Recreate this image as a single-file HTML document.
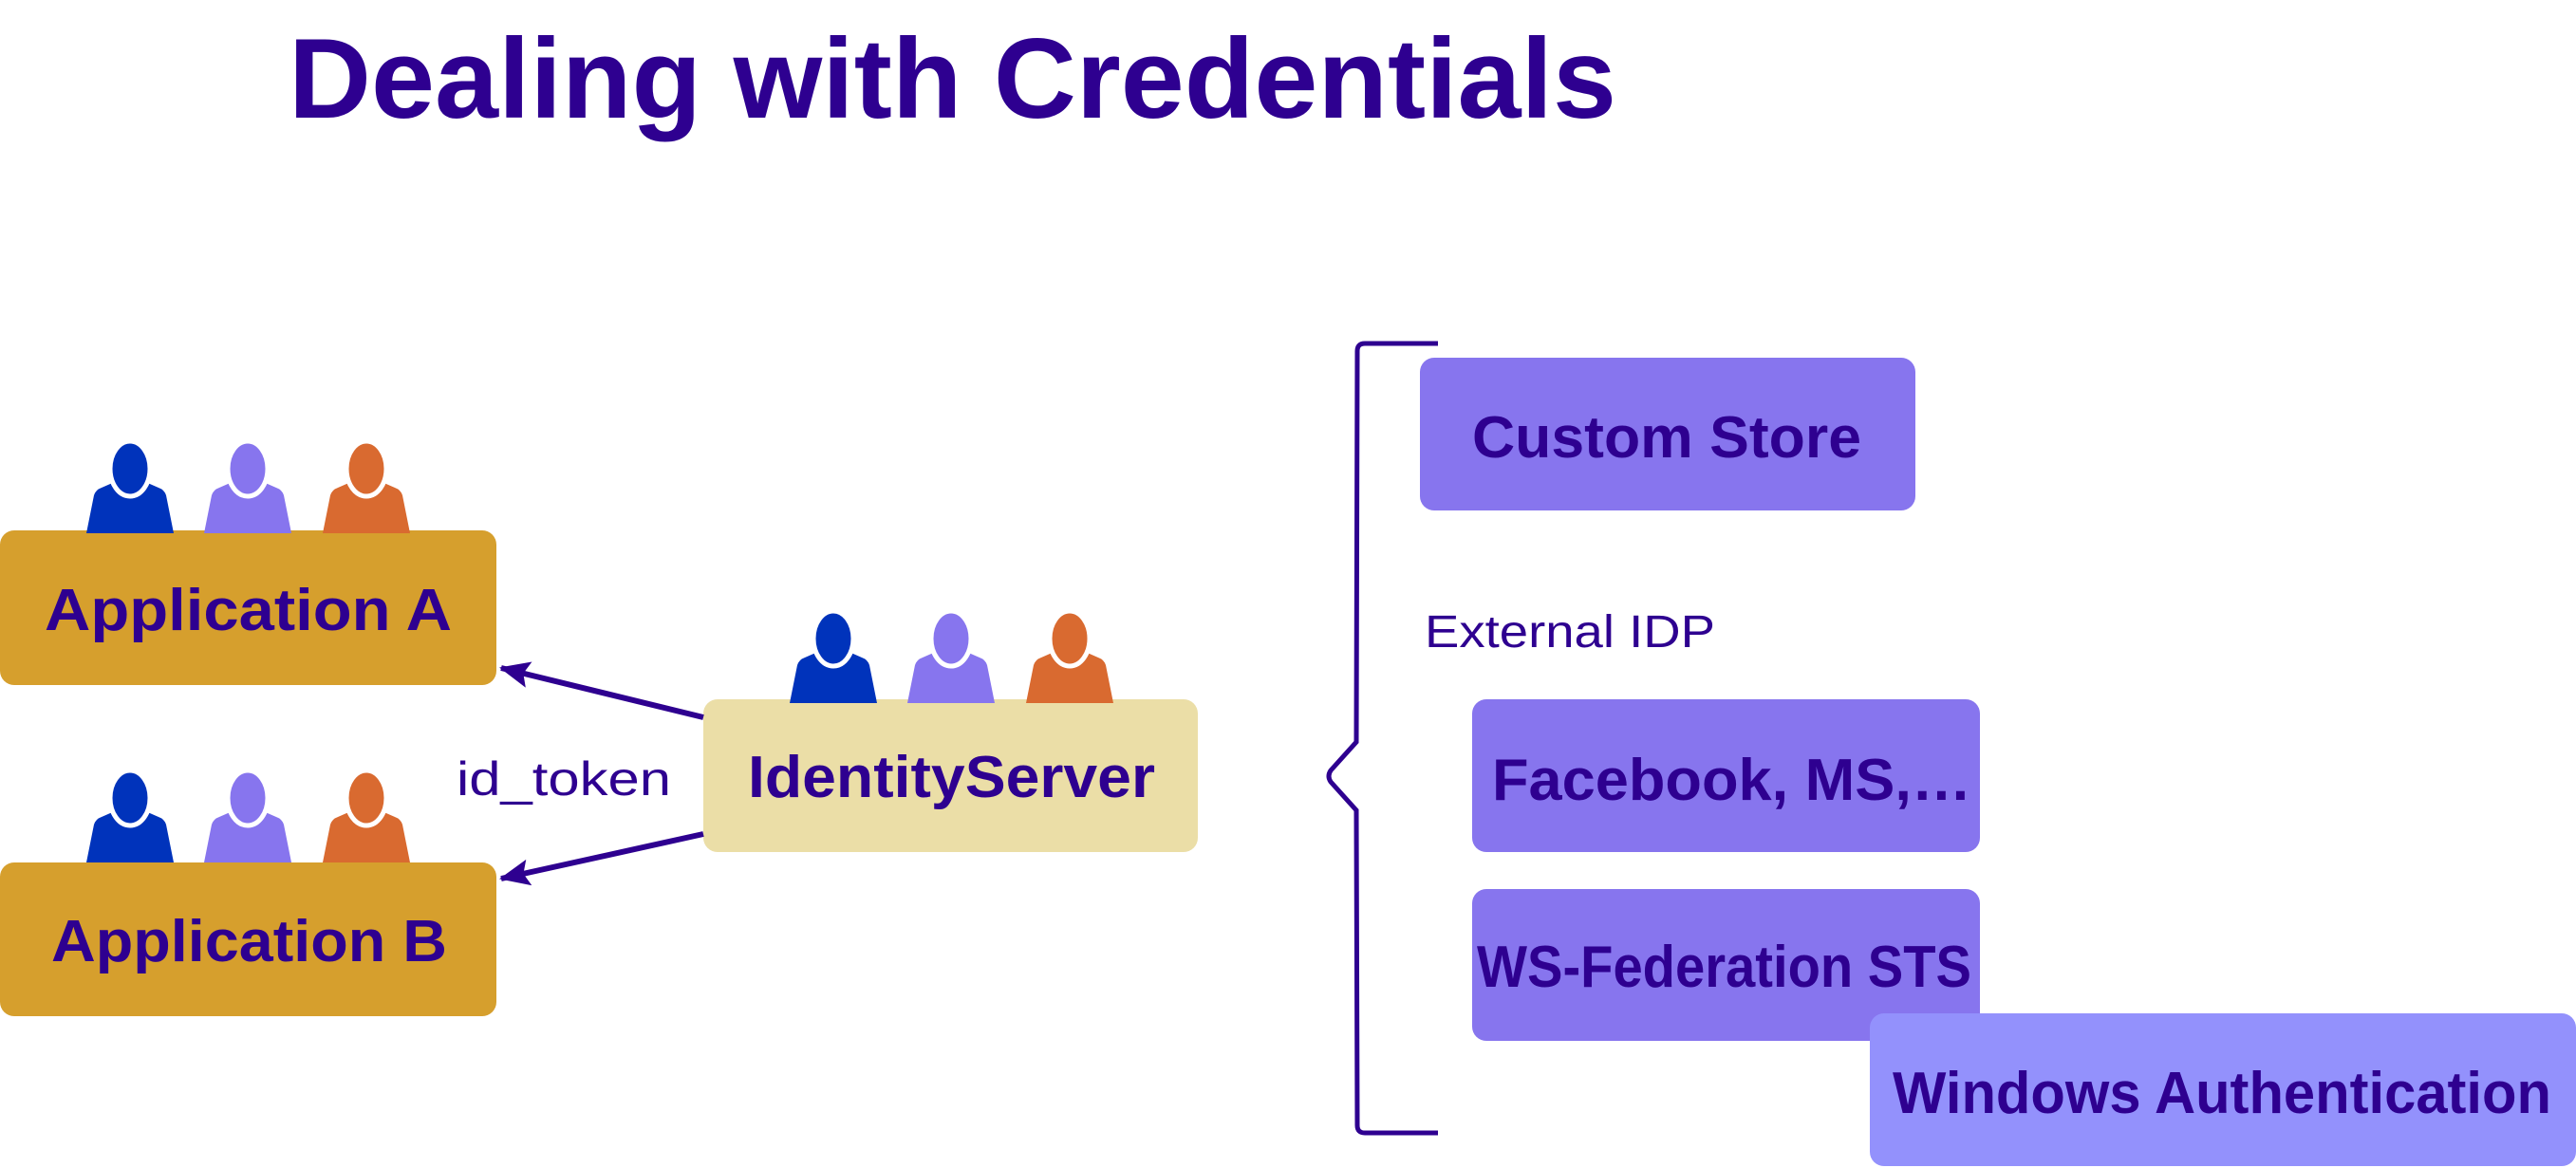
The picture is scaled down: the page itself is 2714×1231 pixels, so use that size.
<!DOCTYPE html>
<html><head><meta charset="utf-8"><style>
html,body{margin:0;padding:0;background:#fff;}
svg{display:block;}
text{font-family:"Liberation Sans",sans-serif;font-weight:bold;fill:#2e0090;}
</style></head><body>
<svg width="2714" height="1231" viewBox="0 0 2714 1231" xmlns="http://www.w3.org/2000/svg">
<defs>
<g id="p">
<path d="M4 95 L12 55 Q14 49 20 47 L36 40 Q50 54 64 40 L80 47 Q86 49 88 55 L96 95 Z"/>
<ellipse cx="50" cy="27" rx="21" ry="29" stroke="#fff" stroke-width="5"/>
</g>
<marker id="ah" markerWidth="32" markerHeight="28" refX="30" refY="14" orient="auto" markerUnits="userSpaceOnUse" viewBox="0 0 32 28"><path d="M0 0 L32 14 L0 28 L6 14 Z" fill="#2e0090"/></marker>
</defs>
<text x="304" y="124" font-size="120" textLength="1399" lengthAdjust="spacingAndGlyphs">Dealing with Credentials</text>

<rect x="0" y="559" width="523" height="163" rx="15" fill="#d69f2d"/>
<rect x="0" y="909" width="523" height="162" rx="15" fill="#d69f2d"/>
<rect x="741" y="737" width="521" height="161" rx="15" fill="#ebdea7"/>

<g transform="translate(87,467)"><use href="#p" fill="#0033bb"/></g>
<g transform="translate(211,467)"><use href="#p" fill="#8775ee"/></g>
<g transform="translate(336,467)"><use href="#p" fill="#d96a30"/></g>
<g transform="translate(87,814)"><use href="#p" fill="#0033bb"/></g>
<g transform="translate(211,814)"><use href="#p" fill="#8775ee"/></g>
<g transform="translate(336,814)"><use href="#p" fill="#d96a30"/></g>
<g transform="translate(828,646)"><use href="#p" fill="#0033bb"/></g>
<g transform="translate(952,646)"><use href="#p" fill="#8775ee"/></g>
<g transform="translate(1077,646)"><use href="#p" fill="#d96a30"/></g>

<text x="47" y="664" font-size="62" textLength="429" lengthAdjust="spacingAndGlyphs">Application A</text>
<text x="54" y="1013" font-size="62" textLength="417" lengthAdjust="spacingAndGlyphs">Application B</text>
<text x="788" y="840" font-size="62" textLength="429" lengthAdjust="spacingAndGlyphs">IdentityServer</text>

<line x1="741" y1="756" x2="528" y2="704" stroke="#2e0090" stroke-width="6" marker-end="url(#ah)"/>
<line x1="741" y1="879" x2="528" y2="926" stroke="#2e0090" stroke-width="6" marker-end="url(#ah)"/>
<text x="481" y="838" font-size="50" style="font-weight:normal" textLength="226" lengthAdjust="spacingAndGlyphs">id_token</text>

<path d="M1515 362 L1438 362 Q1430 362 1430 370 L1429 782 L1402 812 Q1398 818 1402 824 L1429 854 L1430 1186 Q1430 1194 1438 1194 L1515 1194" fill="none" stroke="#2e0090" stroke-width="5"/>

<rect x="1496" y="377" width="522" height="161" rx="15" fill="#8775ee"/>
<text x="1551" y="482" font-size="62" textLength="410" lengthAdjust="spacingAndGlyphs">Custom Store</text>
<text x="1501" y="682" font-size="48" style="font-weight:normal" textLength="306" lengthAdjust="spacingAndGlyphs">External IDP</text>
<rect x="1551" y="737" width="535" height="161" rx="15" fill="#8775ee"/>
<text x="1572" y="843" font-size="62" textLength="505" lengthAdjust="spacingAndGlyphs">Facebook, MS,…</text>
<rect x="1551" y="937" width="535" height="160" rx="15" fill="#8775ee"/>
<text x="1556" y="1040" font-size="62" textLength="521" lengthAdjust="spacingAndGlyphs">WS-Federation STS</text>
<rect x="1970" y="1068" width="744" height="161" rx="15" fill="#9391fc"/>
<text x="1994" y="1173" font-size="62" textLength="694" lengthAdjust="spacingAndGlyphs">Windows Authentication</text>
</svg>
</body></html>
